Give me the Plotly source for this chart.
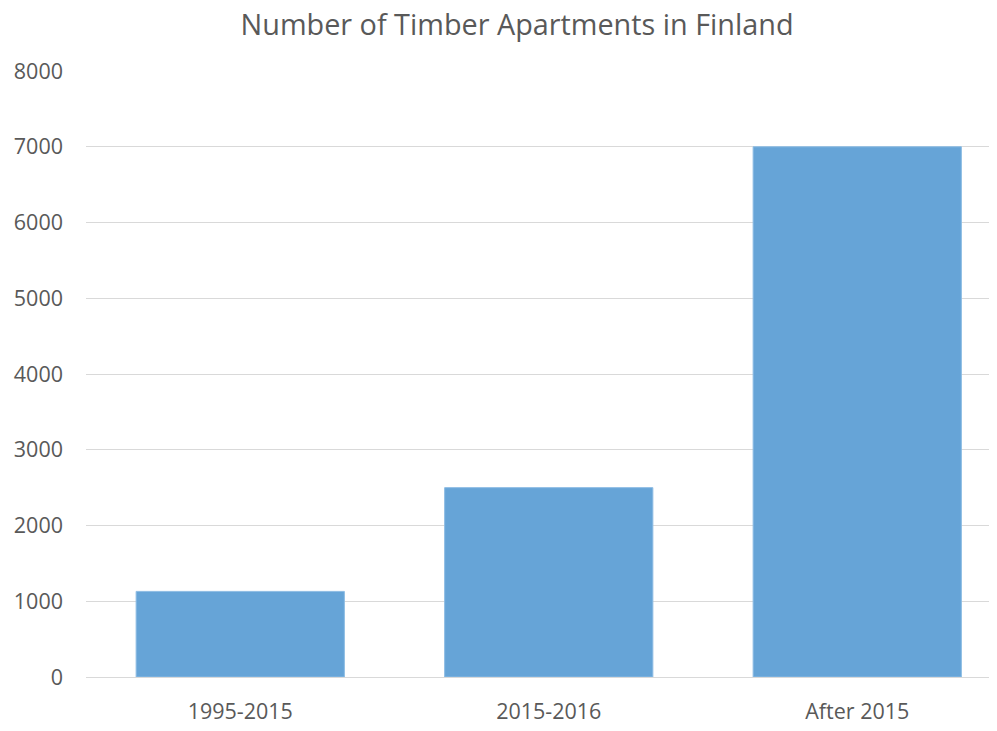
import plotly.graph_objects as go

categories = ["1995-2015", "2015-2016", "After 2015"]
values = [1130, 2500, 7000]
y_ticks = [0, 1000, 2000, 3000, 4000, 5000, 6000, 7000, 8000]

fig = go.Figure(go.Bar(
    x=categories, y=values,
    marker=dict(color="#66A4D7", line=dict(color="#8DBCE4", width=1)),
))

fig.update_layout(
    width=989, height=723,
    paper_bgcolor="white", plot_bgcolor="white",
    margin=dict(l=78, r=0, t=63, b=54),
    bargap=0.325,
    showlegend=False,
    font=dict(family="Open Sans", color="#595959"),
    title=dict(text="Number of Timber Apartments in Finland",
               x=0.5147, xanchor="center", xref="container",
               y=0.977, yanchor="middle", yref="container",
               font=dict(size=28.8, color="#595959")),
)
fig.update_xaxes(range=[-0.5, 2.453], showgrid=False, showline=False,
                 tickfont=dict(size=21.5, color="#595959"), ticklabelstandoff=19)
fig.update_yaxes(range=[0, 8000], tickvals=y_ticks, showgrid=True,
                 gridcolor="#D9D9D9", gridwidth=1, zeroline=True,
                 zerolinecolor="#D9D9D9", zerolinewidth=1,
                 tickfont=dict(size=21.5, color="#595959"), ticklabelstandoff=22)

fig.write_html("out.html")
